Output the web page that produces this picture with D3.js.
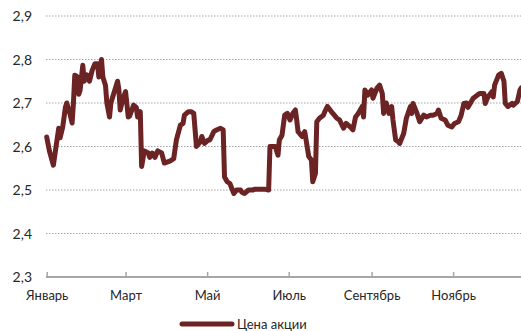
<!DOCTYPE html>
<html>
<head>
<meta charset="utf-8">
<script src="https://cdn.jsdelivr.net/npm/d3@7"></script>
<style>
  html, body { margin: 0; padding: 0; background: #fff; }
  svg { display: block; font-family: Lato, "Open Sans", sans-serif; }
</style>
</head>
<body>
<svg id="chart" width="521" height="331"></svg>
<script>
// Share price over the year (daily closes, selected trading days)
const dates = [
  "01-01","01-03","01-06","01-08","01-10","01-11","01-13","01-15","01-16","01-18",
  "01-20","01-21","01-22","01-24","01-25","01-26","01-28","01-29","01-31","02-02",
  "02-04","02-06","02-08","02-09","02-11","02-12","02-14","02-15","02-17","02-18",
  "02-20","02-23","02-24","02-25","02-27","03-01","03-03","03-04","03-07","03-09",
  "03-10","03-12","03-13","03-15","03-18","03-19","03-21","03-23","03-25","03-28",
  "03-30","04-02","04-04","04-06","04-08","04-11","04-13","04-14","04-17","04-19",
  "04-21","04-22","04-23","04-26","04-27","04-29","05-02","05-03","05-06","05-08",
  "05-11","05-13","05-14","05-16","05-18","05-21","05-23","05-26","05-27","05-29",
  "06-01","06-04","06-06","06-10","06-13","06-16","06-17","06-21","06-23","06-24",
  "06-26","06-28","06-30","07-02","07-04","07-06","07-07","07-08","07-11","07-13",
  "07-14","07-16","07-18","07-19","07-21","07-22","07-24","07-27","07-28","07-30",
  "08-01","08-03","08-06","08-08","08-11","08-13","08-16","08-18","08-20","08-22",
  "08-25","08-26","08-27","08-29","09-01","09-02","09-05","09-07","09-09","09-10",
  "09-12","09-14","09-16","09-17","09-19","09-21","09-22","09-25","09-27","09-30",
  "10-01","10-02","10-05","10-07","10-10","10-12","10-15","10-17","10-20","10-21",
  "10-23","10-26","10-28","10-31","11-02","11-05","11-07","11-09","11-11","11-12",
  "11-14","11-16","11-19","11-21","11-24","11-25","11-27","11-30","12-01","12-02",
  "12-05","12-07","12-09","12-10","12-12","12-15","12-16","12-19","12-21","12-22"
];
const prices = [
  2.622,2.590,2.557,2.600,2.642,2.620,2.645,2.690,2.700,2.680,
  2.654,2.700,2.764,2.760,2.720,2.730,2.787,2.750,2.765,2.750,
  2.775,2.790,2.790,2.760,2.800,2.760,2.740,2.700,2.668,2.700,
  2.720,2.750,2.730,2.684,2.710,2.726,2.668,2.670,2.695,2.690,
  2.668,2.680,2.554,2.590,2.585,2.575,2.585,2.575,2.590,2.585,
  2.562,2.565,2.568,2.572,2.615,2.649,2.653,2.672,2.680,2.680,
  2.676,2.638,2.600,2.611,2.623,2.607,2.615,2.615,2.634,2.638,
  2.642,2.638,2.530,2.519,2.515,2.492,2.500,2.500,2.495,2.492,
  2.500,2.500,2.502,2.502,2.502,2.500,2.600,2.600,2.580,2.615,
  2.626,2.672,2.676,2.661,2.676,2.684,2.661,2.634,2.623,2.634,
  2.615,2.577,2.569,2.519,2.538,2.657,2.665,2.672,2.680,2.692,
  2.684,2.676,2.665,2.661,2.642,2.653,2.645,2.638,2.668,2.676,
  2.692,2.668,2.730,2.718,2.730,2.711,2.734,2.741,2.722,2.676,
  2.700,2.676,2.692,2.661,2.615,2.611,2.607,2.630,2.665,2.692,
  2.676,2.699,2.676,2.657,2.672,2.668,2.672,2.672,2.676,2.684,
  2.665,2.661,2.649,2.645,2.653,2.657,2.672,2.699,2.700,2.690,
  2.700,2.711,2.718,2.722,2.722,2.699,2.714,2.726,2.714,2.741,
  2.764,2.768,2.750,2.699,2.692,2.699,2.695,2.703,2.730,2.735
];
const yTicks = [2.3, 2.4, 2.5, 2.6, 2.7, 2.8, 2.9];
const monthLabels = ["Январь","Февраль","Март","Апрель","Май","Июнь",
                     "Июль","Август","Сентябрь","Октябрь","Ноябрь","Декабрь"];
const seriesName = "Цена акции";
const year = 2019;

const data = dates.map((d, i) => ({ date: new Date(`${year}-${d}T00:00:00Z`), value: prices[i] }));

const svg = d3.select("#chart");
const lineColor = "#6b2324";

const yearStart = new Date(Date.UTC(year, 0, 1));
const yearEnd = new Date(Date.UTC(year + 1, 0, 1));
const x = d3.scaleUtc().domain([yearStart, yearEnd]).range([46.7, 534.7]);
const y = d3.scaleLinear().domain([2.3, 2.9]).range([277, 16]);

const fmt = v => d3.format(".1f")(v).replace(".", ",");

// horizontal dotted gridlines
svg.append("g")
  .selectAll("line")
  .data(yTicks.filter(t => t > 2.3))
  .join("line")
  .attr("x1", 46).attr("x2", 521)
  .attr("y1", d => y(d)).attr("y2", d => y(d))
  .attr("stroke", "#a6a6a6")
  .attr("stroke-width", 1)
  .attr("stroke-dasharray", "1.5,1.5");

// y labels
svg.append("g")
  .selectAll("text")
  .data(yTicks)
  .join("text")
  .attr("x", 32)
  .attr("y", d => y(d))
  .attr("dy", "0.36em")
  .attr("text-anchor", "end")
  .attr("font-size", 14)
  .attr("fill", "#262626")
  .text(fmt);

// x axis with inward ticks every two months of the year
const xAxis = d3.axisBottom(x)
  .tickValues(d3.utcMonth.range(yearStart, yearEnd, 2))
  .tickSizeInner(-5)
  .tickSizeOuter(0)
  .tickPadding(14)
  .tickFormat(d => monthLabels[d.getUTCMonth()]);

const gx = svg.append("g")
  .attr("transform", "translate(0,277)")
  .call(xAxis);
gx.select(".domain").attr("stroke", "#a6a6a6").attr("stroke-width", 2)
  .attr("d", `M46,0H521`);
gx.selectAll(".tick line").attr("stroke", "#a6a6a6").attr("stroke-width", 1.5);
gx.selectAll(".tick text")
  .attr("font-size", 13)
  .attr("font-family", "Lato, 'Open Sans', sans-serif")
  .attr("fill", "#262626");

// price line
const line = d3.line()
  .x(d => x(d.date))
  .y(d => y(d.value));

svg.append("path")
  .datum(data)
  .attr("d", line)
  .attr("fill", "none")
  .attr("stroke", lineColor)
  .attr("stroke-width", 5)
  .attr("stroke-linejoin", "round")
  .attr("stroke-linecap", "round");

// legend
const legend = svg.append("g").attr("transform", "translate(180,324)");
legend.append("line")
  .attr("x1", 2).attr("x2", 52)
  .attr("stroke", lineColor)
  .attr("stroke-width", 5)
  .attr("stroke-linecap", "round");
legend.append("text")
  .attr("x", 57)
  .attr("y", 0)
  .attr("dy", "0.36em")
  .attr("font-size", 13)
  .attr("fill", "#262626")
  .text(seriesName);
</script>
</body>
</html>
